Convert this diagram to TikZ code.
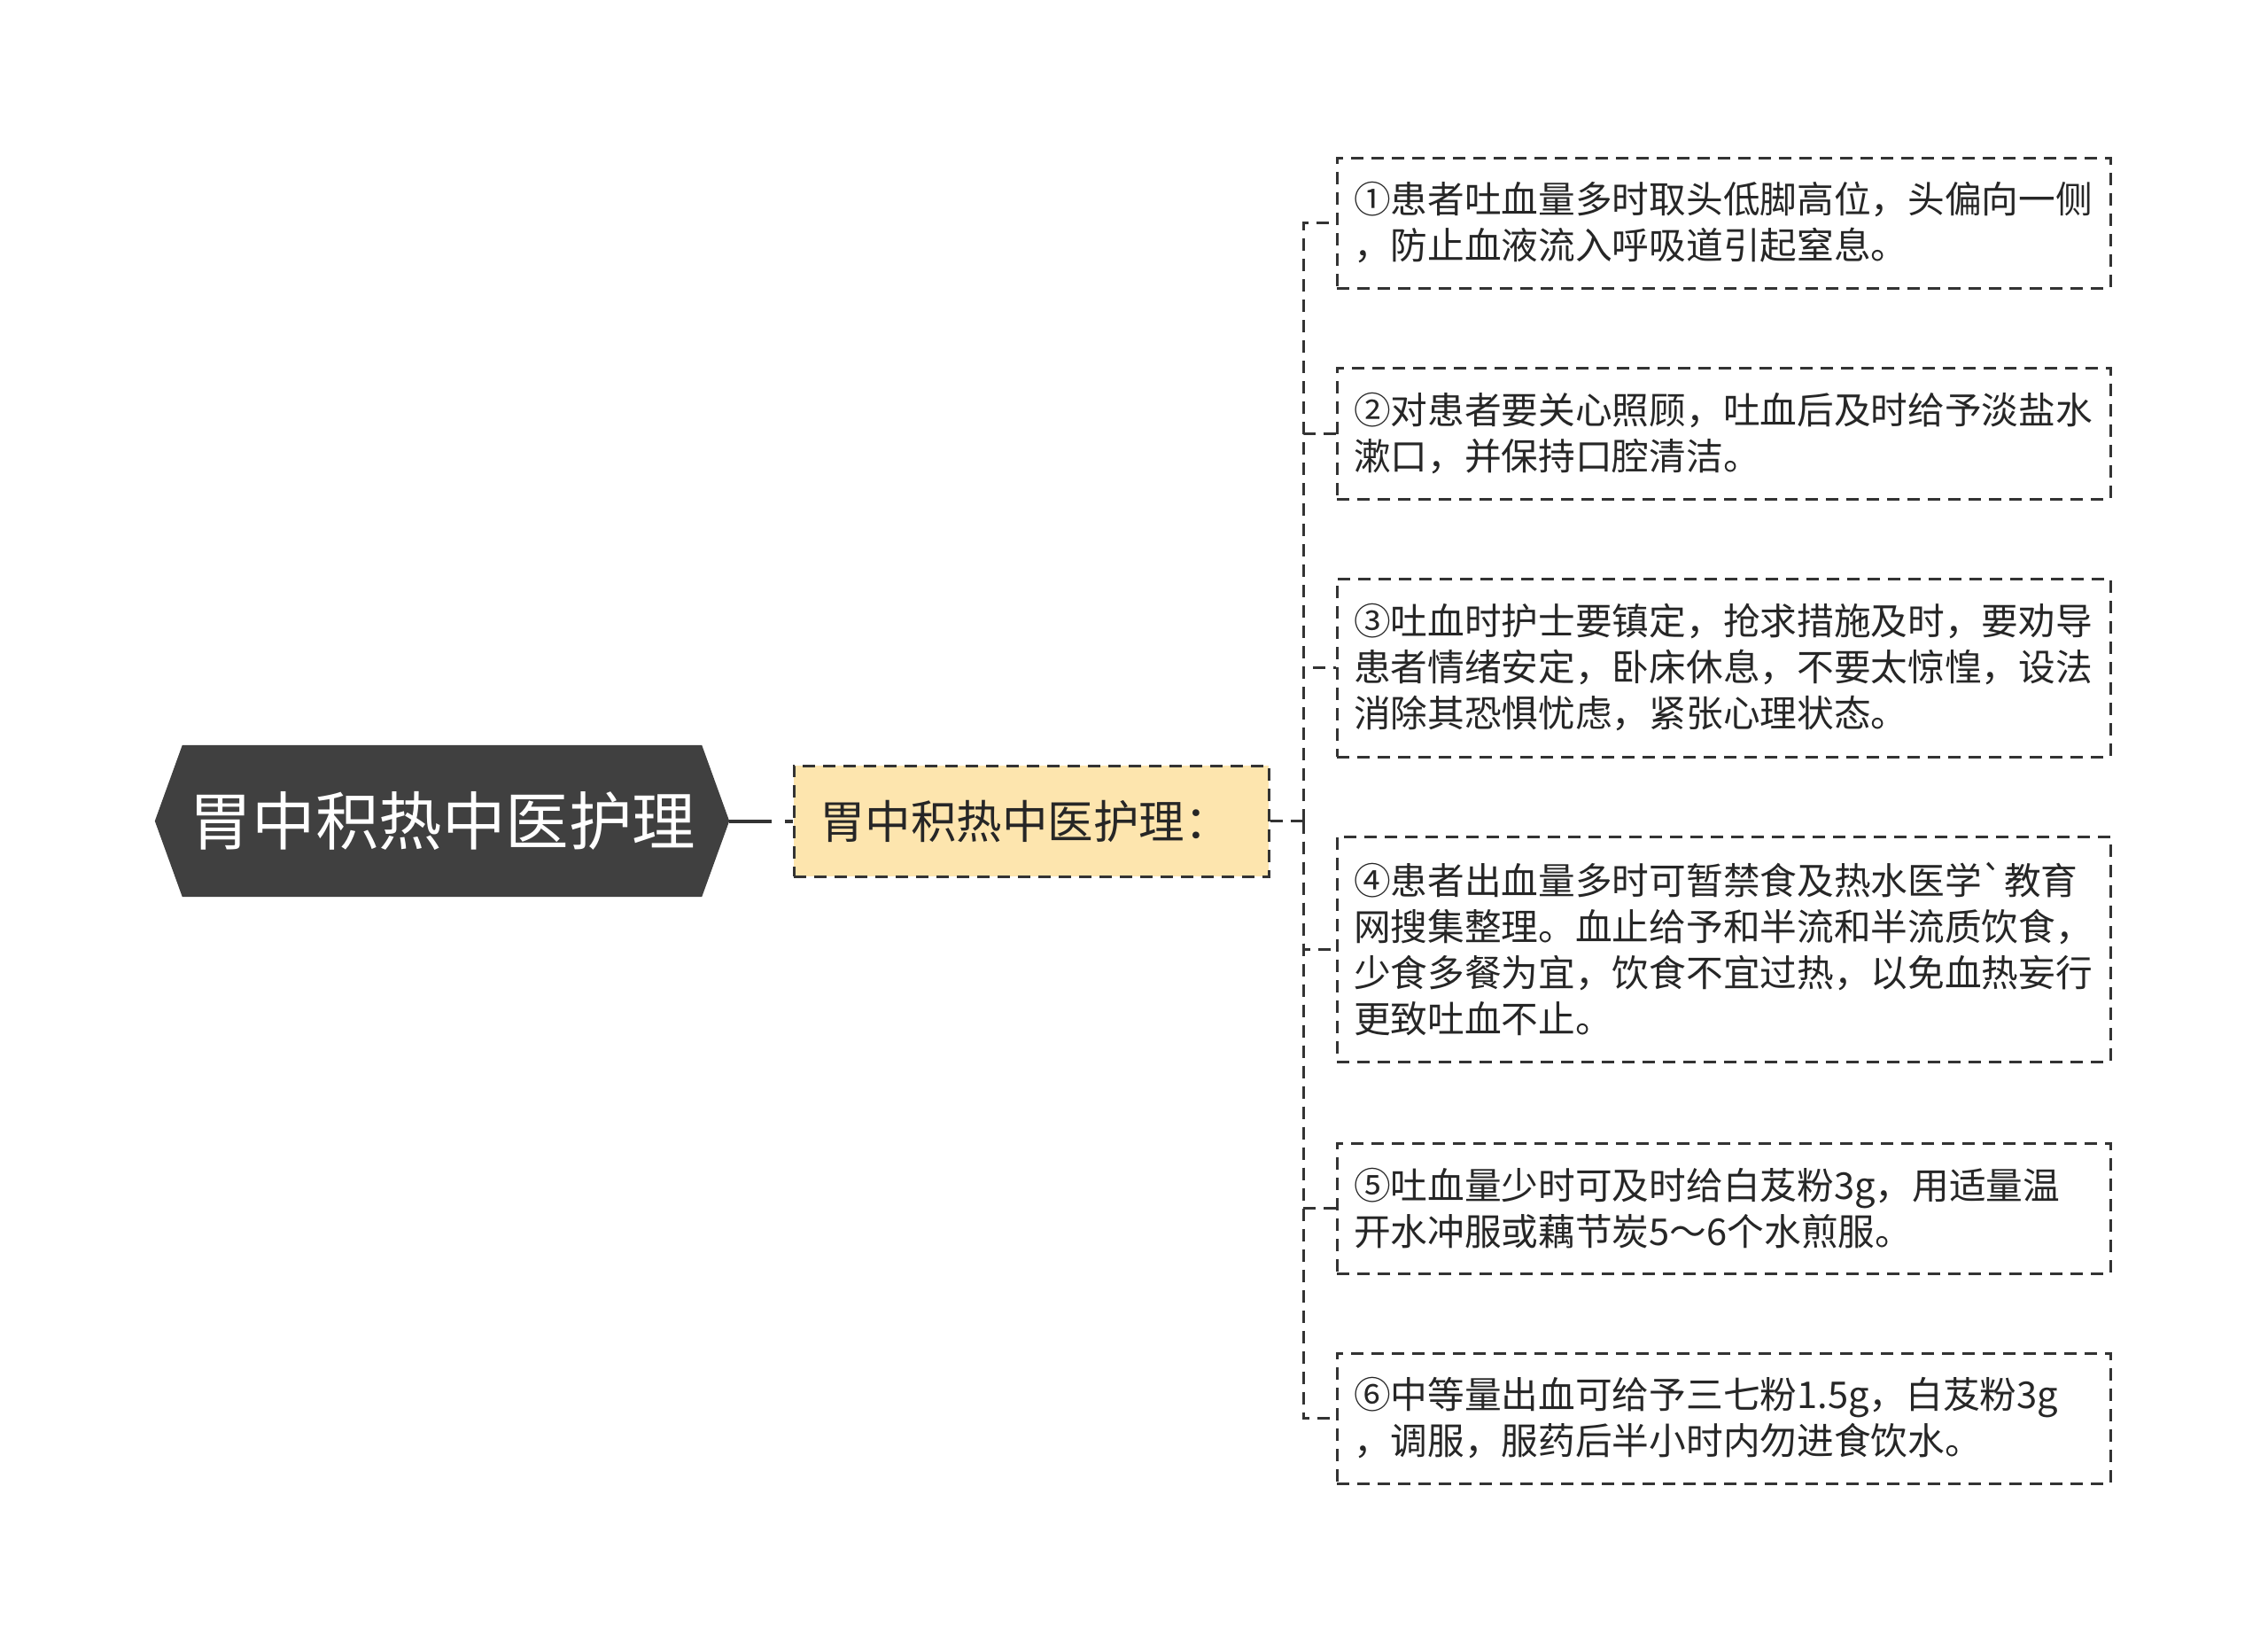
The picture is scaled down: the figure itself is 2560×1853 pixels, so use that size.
\documentclass[tikz,border=0pt]{standalone}
\usepackage{fontspec}
\setmainfont{Noto Sans CJK SC}[Ligatures=TeXOff]
\usetikzlibrary{backgrounds}
\definecolor{rootgray}{HTML}{404040}
\definecolor{linegray}{HTML}{333333}
\definecolor{midyellow}{HTML}{FDE5AE}
\tikzset{
  root/.style={minimum width=586pt, minimum height=171pt, inner sep=0pt, text=white, font=\fontsize{71.5}{80}\selectfont},
  mid/.style={draw=linegray, line width=3pt, dash pattern=on 14pt off 9pt, fill=midyellow, minimum height=125pt, text width=478pt, inner xsep=29pt, inner ysep=0pt, align=left, text=black!85, font=\fontsize{51.5}{60}\selectfont},
  item/.style={draw=linegray, line width=3pt, dash pattern=on 14pt off 9pt, minimum width=873pt, text width=835pt, inner xsep=19pt, inner ysep=0pt, align=left, text=black!85, font=\fontsize{41.7}{52}\selectfont},
  link/.style={draw=linegray, line width=3pt, dash pattern=on 14pt off 9pt},
}
\begin{document}
\begin{tikzpicture}[x=1pt,y=-1pt]
  \useasboundingbox (0,0) rectangle (2560,1853);
  \node[root] (root) at (499,926.5) {胃中积热中医护理};
  \begin{scope}[on background layer]
    \fill[rootgray] (root.north west) -- (root.north east) -- ([xshift=31pt]root.east) -- (root.south east) -- (root.south west) -- ([xshift=-31pt]root.west) -- cycle;
  \end{scope}
  \node[mid] (mid) at (1164,926.5) {胃中积热中医护理：};
  \coordinate (tip) at ([xshift=31pt]root.east);
  \coordinate (fork) at (1471,926.5);
  \draw[linegray, line width=4pt, dash pattern=on 48pt off 15pt] (tip) -- (mid.west);
  \draw[link] (mid.east) -- (fork);
  \foreach \i/\y/\h/\txt in {
      1/251.5/147/{①患者吐血量多时取头低脚高位，头偏向一侧\\，防止血液流入呼吸道引起窒息。},
      2/489/148/{②对患者要关心照顾，吐血后及时给予淡盐水\\漱口，并保持口腔清洁。},
      3/753.5/201/{③吐血时护士要镇定，抢求措施及时，要劝导\\患者情绪安定，卧床休息，不要太惊惶，设法\\消除其恐惧忧虑，紧张心理状态。},
      4/1071/254/{④患者出血量多时可暂禁食及热水医学`教育\\网搜集整理。血止给予和半流和半流质饮食，\\少食多餐为宜，饮食不宜过热，以免血热妄行\\更致吐血不止。},
      5/1363.5/147/{⑤吐血量少时可及时给白芨粉3g，用适量温\\开水冲服或藕节炭5～6个水煎服。},
      6/1600.5/147/{⑥中等量出血可给予三七粉1.5g，白芨粉3g\\，调服，服药后半小时内勿进食饮水。}}{
    \node[item, minimum height=\h pt] (c\i) at (1945.5,\y) {\txt};
    \draw[link] (fork) |- (c\i.west);}
\end{tikzpicture}
\end{document}
